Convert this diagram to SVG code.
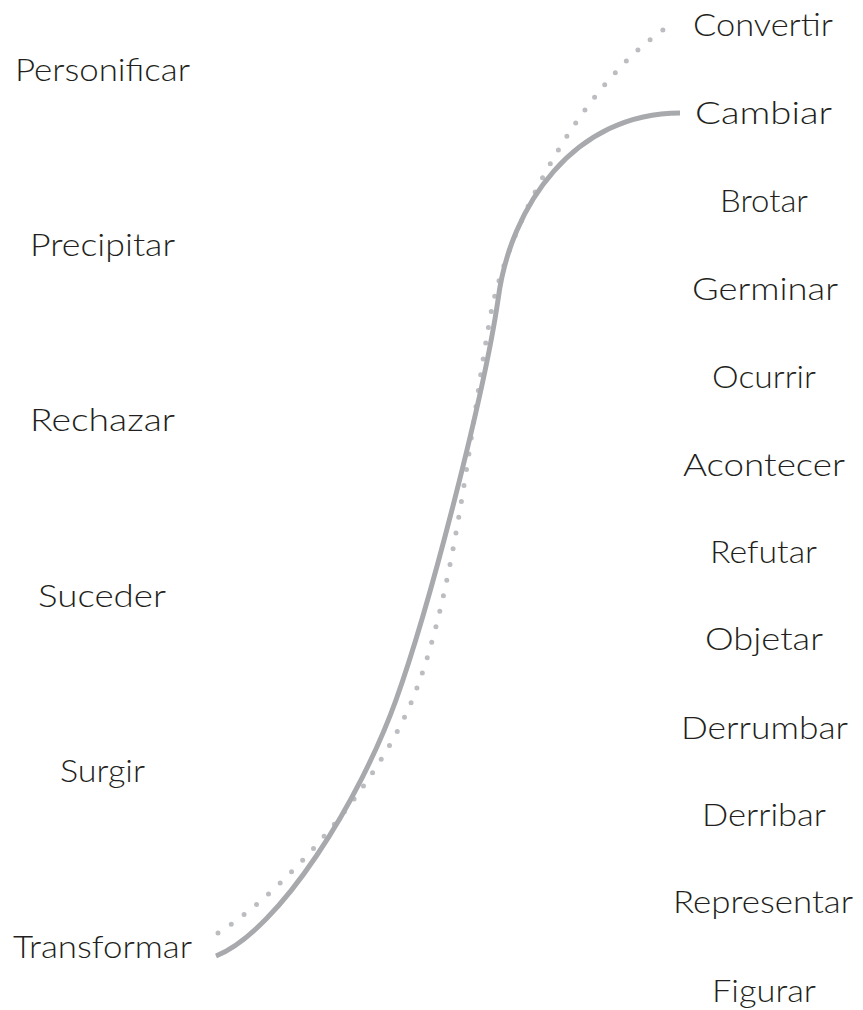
<svg xmlns="http://www.w3.org/2000/svg" width="863" height="1010" viewBox="0 0 863 1010">
<style>
.lbl{font-family:"Lato","Noto Sans","Liberation Sans",sans-serif;font-weight:300;font-size:32px;fill:#231f20;text-anchor:middle}
.solid{fill:none;stroke:#a8a9ad;stroke-width:5;stroke-linecap:butt}
.dots{fill:none;stroke:#bcbdc0;stroke-width:5;stroke-linecap:round;stroke-dasharray:0 16}
</style>
<rect width="863" height="1010" fill="#ffffff"/>
<g id="connectors">
<path class="dots" d="M218,933 C280,895 377,788 413,698 C457,590 472,410 492,308 C508,230 580,80 675,22"/>
<path class="solid" d="M216,956 C280,930 360,800 396,700 C430,605 484,395 498,300 C510,205 575,113 680,113"/>
</g>
<g id="n-personificar"><text class="lbl" x="102.5" y="81" textLength="175" lengthAdjust="spacingAndGlyphs">Personificar</text></g>
<g id="n-precipitar"><text class="lbl" x="102.5" y="256" textLength="145" lengthAdjust="spacingAndGlyphs">Precipitar</text></g>
<g id="n-rechazar"><text class="lbl" x="102.5" y="431" textLength="145" lengthAdjust="spacingAndGlyphs">Rechazar</text></g>
<g id="n-suceder"><text class="lbl" x="102" y="607" textLength="128" lengthAdjust="spacingAndGlyphs">Suceder</text></g>
<g id="n-surgir"><text class="lbl" x="102.5" y="782" textLength="85" lengthAdjust="spacingAndGlyphs">Surgir</text></g>
<g id="n-transformar"><text class="lbl" x="102.5" y="958" textLength="179" lengthAdjust="spacingAndGlyphs">Transformar</text></g>
<g id="n-convertir"><text class="lbl" x="763" y="36" textLength="140" lengthAdjust="spacingAndGlyphs">Convertir</text></g>
<g id="n-cambiar"><text class="lbl" x="763.5" y="124" textLength="137" lengthAdjust="spacingAndGlyphs">Cambiar</text></g>
<g id="n-brotar"><text class="lbl" x="764" y="212" textLength="88" lengthAdjust="spacingAndGlyphs">Brotar</text></g>
<g id="n-germinar"><text class="lbl" x="765" y="300" textLength="146" lengthAdjust="spacingAndGlyphs">Germinar</text></g>
<g id="n-ocurrir"><text class="lbl" x="764" y="388" textLength="104" lengthAdjust="spacingAndGlyphs">Ocurrir</text></g>
<g id="n-acontecer"><text class="lbl" x="764" y="476" textLength="162" lengthAdjust="spacingAndGlyphs">Acontecer</text></g>
<g id="n-refutar"><text class="lbl" x="763.5" y="563" textLength="107" lengthAdjust="spacingAndGlyphs">Refutar</text></g>
<g id="n-objetar"><text class="lbl" x="764" y="650" textLength="118" lengthAdjust="spacingAndGlyphs">Objetar</text></g>
<g id="n-derrumbar"><text class="lbl" x="764.5" y="739" textLength="167" lengthAdjust="spacingAndGlyphs">Derrumbar</text></g>
<g id="n-derribar"><text class="lbl" x="764" y="826" textLength="124" lengthAdjust="spacingAndGlyphs">Derribar</text></g>
<g id="n-representar"><text class="lbl" x="763" y="913" textLength="180" lengthAdjust="spacingAndGlyphs">Representar</text></g>
<g id="n-figurar"><text class="lbl" x="764" y="1002" textLength="104" lengthAdjust="spacingAndGlyphs">Figurar</text></g>
</svg>
